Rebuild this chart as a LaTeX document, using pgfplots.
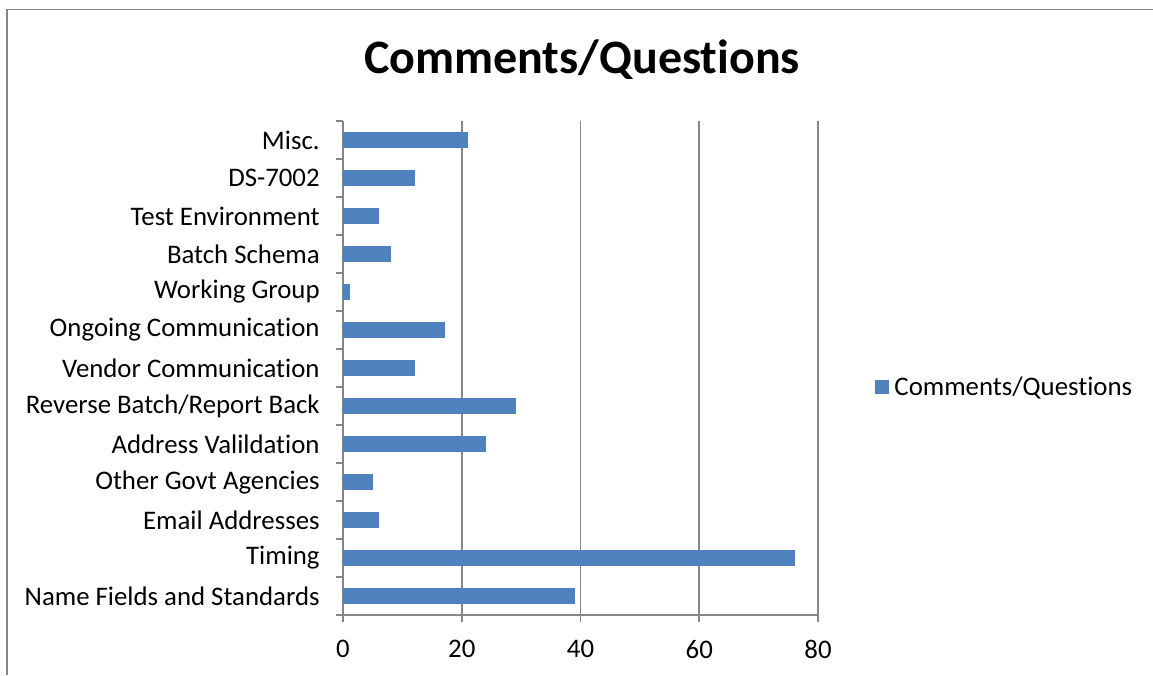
\documentclass[border=0pt]{standalone}
\usepackage{pgfplots}
\pgfplotsset{compat=1.18}
\usepackage{fontspec}
\setmainfont{Carlito}[Ligatures={NoCommon}]
\definecolor{barblue}{HTML}{4F81BD}
\definecolor{gridgray}{HTML}{868686}

\begin{document}
\begin{tikzpicture}
% page is 1153x675 px, 1px = 0.75pt
\useasboundingbox (0,0) rectangle (864.75pt,506.25pt);
\draw[gridgray, line width=1.2pt] (5.25pt,0) -- (5.25pt,499.1pt) -- (864.75pt,499.1pt);
\node[anchor=base, font=\fontsize{36}{42}\selectfont\bfseries, inner sep=0pt] at (436.5pt,450.75pt) {Comments/Questions};

\begin{axis}[
    at={(257.25pt,45pt)}, anchor=south west,
    scale only axis,
    width=356.25pt, height=370.5pt,
    xbar, bar width=11.25pt,
    xmin=0, xmax=80,
    ymin=-0.5, ymax=12.5,
    xtick={0,20,40,60,80},
    ytick={-0.5,0.5,...,12.5},
    yticklabels={},
    extra y ticks={0,...,12},
    extra y tick labels={Name Fields and Standards, Timing, Email Addresses, Other Govt Agencies,
        Address Valildation, Reverse Batch/Report Back, Vendor Communication,
        Ongoing Communication, Working Group, Batch Schema, Test Environment,
        DS-7002, Misc.},
    extra y tick style={major tick length=0pt},
    axis x line*=bottom, axis y line*=left,
    axis line style={gridgray, line width=1.4pt, -},
    xmajorgrids=true,
    major grid style={gridgray, line width=1.4pt},
    tick style={gridgray, line width=1.4pt},
    tick align=outside,
    major tick length=5.5pt,
    /pgf/number format/assume math mode=true,
    tick label style={font=\fontsize{20.1}{24}\selectfont},
    xticklabel style={yshift=-10pt},
    yticklabel style={xshift=-14pt},
    legend style={at={(1.12,0.4615)}, anchor=west, draw=none, fill=none,
        inner sep=0pt, font=\fontsize{20.1}{24}\selectfont},
    legend image code/.code={\fill[barblue] (0pt,-4.9pt) rectangle (9.8pt,4.9pt); \path (12pt,0pt);},
]
\addplot[fill=barblue, draw=barblue] coordinates {
(39,0)
(76,1)
(6,2)
(5,3)
(24,4)
(29,5)
(12,6)
(17,7)
(1,8)
(8,9)
(6,10)
(12,11)
(21,12)
};
\addlegendentry{Comments/Questions}
\end{axis}
\end{tikzpicture}
\end{document}
